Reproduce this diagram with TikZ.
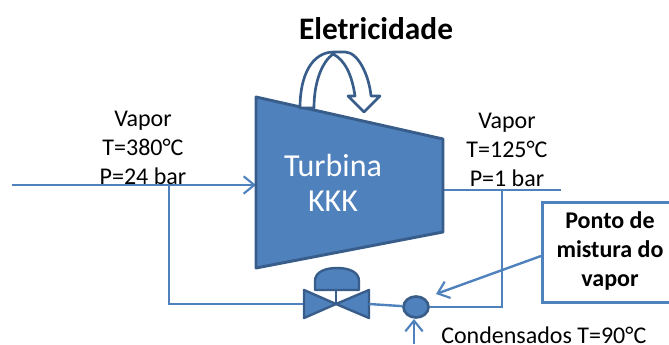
\documentclass[tikz,border=0pt]{standalone}
\usepackage{fontspec}
\setmainfont{Carlito}
\usetikzlibrary{arrows.meta,shapes.geometric}
\definecolor{fillb}{HTML}{4F81BD}
\definecolor{edgeb}{HTML}{385D8A}
\tikzset{
  x=0.75pt,y=-0.75pt,
  pipe/.style={draw=fillb,line width=1.8pt},
  arrowpipe/.style={pipe,-{Straight Barb[length=8pt,width=13pt,line width=1.6pt]}},
  solid part/.style={fill=fillb,draw=edgeb,line width=2.2pt,line join=round},
  lbl/.style={align=center,font=\fontsize{18}{22}\selectfont,inner sep=0pt},
  boldlbl/.style={align=center,font=\fontsize{18}{22}\selectfont\bfseries,inner sep=0pt}
}
\begin{document}
\begin{tikzpicture}
\useasboundingbox (0,0) rectangle (669,344);
\clip (0,0) rectangle (669,344);
% coordinates
\coordinate (inlet) at (12,185);
\coordinate (tin) at (256,185);
\coordinate (split) at (169,185);
\coordinate (splitb) at (169,304);
\coordinate (vl) at (304,304);
\coordinate (vr) at (369,304);
\coordinate (vc) at (336,304);
\coordinate (tout) at (443,190);
\coordinate (outlet) at (561,190);
\coordinate (tap) at (502,190);
\coordinate (tapb) at (502,307);
\coordinate (cond) at (414,344);
\coordinate (condtip) at (414,319);
\coordinate (mixtip) at (436,294);
% pipes
\draw[pipe] (split) -- (splitb) -- (vl);
\draw[arrowpipe] (inlet) -- (tin);
\draw[pipe] (tout) -- (outlet);
% turbine
\draw[solid part] (256,97) -- (443,139) -- (443,232) -- (256,268) -- cycle;
\node[font=\fontsize{24}{26}\selectfont,color=white,align=center,inner sep=0pt] (turbl) at (333,183) {Turbina\\KKK};
% curved arrow
\draw[draw=edgeb,fill=white,line width=2pt,line join=round]
  (300,108) .. controls (300,75) and (312,52) .. (334,52)
  -- (345,52) .. controls (358,52) and (369,75) .. (371,96)
  -- (380,96) -- (364,112) -- (348,96) -- (355,96)
  .. controls (352,75) and (345,60) .. (333,54)
  .. controls (322,62) and (314,82) .. (314,108) -- cycle;
% valve
\draw[solid part,line width=1.8pt] (315,290) -- (315,281) .. controls (315,272) and (325,268) .. (337,268) .. controls (349,268) and (359,272) .. (359,281) -- (359,290) -- cycle;
\draw[draw=edgeb,line width=1.5pt] (336,290) -- (vc);
\draw[solid part,line width=1.8pt] (304,290) -- (304,318) -- (vc) -- cycle;
\draw[solid part,line width=1.8pt] (369,290) -- (369,318) -- (vc) -- cycle;
% mixing point
\node[ellipse,fill=fillb,draw=edgeb,line width=2pt,minimum width=18.75pt,minimum height=15.75pt,inner sep=0pt] (mix) at (416,307) {};
\draw[pipe] (vr) -- (mix);
\draw[pipe] (mix) -- (tapb) -- (tap);
\draw[arrowpipe] (cond) -- (condtip);
% callout
\node[draw=fillb,line width=2.3pt,fill=white,minimum width=96pt,minimum height=75pt,inner sep=0pt,anchor=north west] (box) at (541,201) {};
\node[boldlbl] (boxl) at (610,251) {Ponto de\\mistura do\\vapor};
\coordinate (boxw) at (541,256);
\draw[arrowpipe] (boxw) -- (mixtip);
% labels
\node[boldlbl,font=\fontsize{23.5}{26}\selectfont\bfseries] (elec) at (376,29) {Eletricidade};
\node[lbl] (vin) at (143,148) {Vapor\\T=380°C\\P=24 bar};
\node[lbl] (vout) at (507,150) {Vapor\\T=125°C\\P=1 bar};
\node[lbl,anchor=west] (condl) at (441,335) {Condensados T=90°C};
\end{tikzpicture}
\end{document}
